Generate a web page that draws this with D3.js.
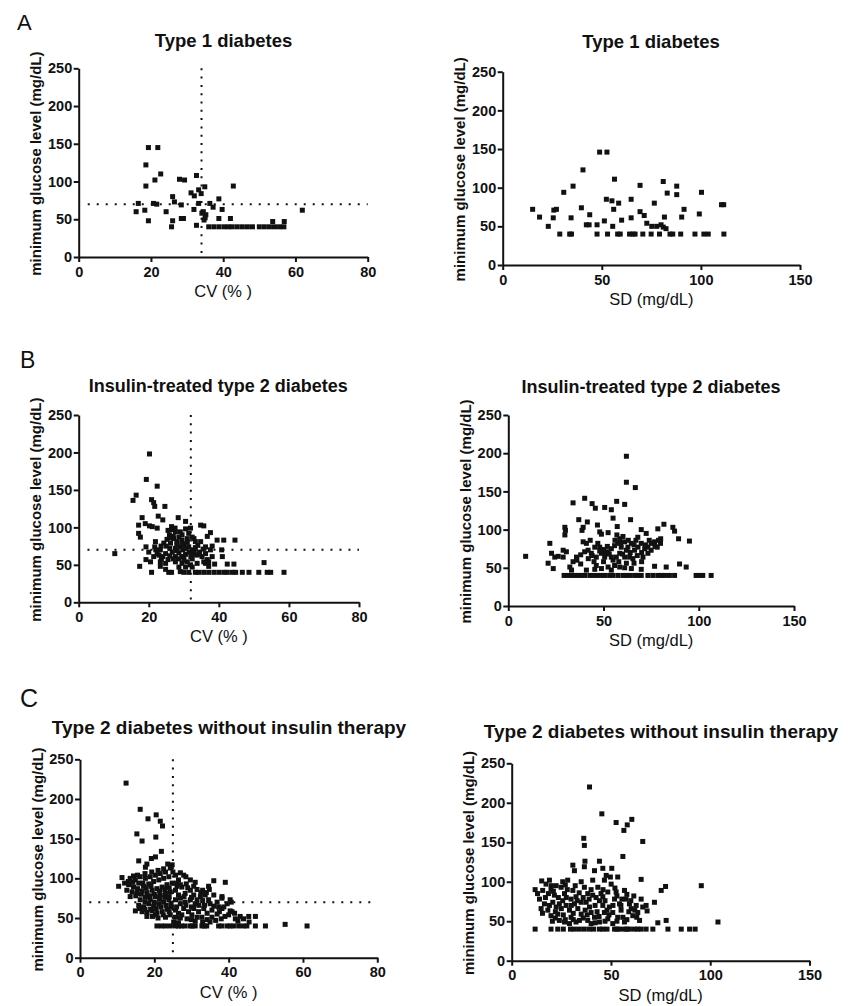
<!DOCTYPE html>
<html>
<head>
<meta charset="utf-8">
<script src="https://cdn.jsdelivr.net/npm/d3@7"></script>
<style>
  body { margin: 0; background: #fff; }
  svg { display: block; font-family: "Liberation Sans", Arial, Helvetica, sans-serif; }
</style>
</head>
<body>
<svg id="fig" width="852" height="1006"></svg>
<script>
// ---- Data: [x, minimum glucose (mg/dL)] per patient ----

// Type 1 diabetes: CV (%) vs minimum glucose
const t1CV = [
  [19.3,145],[21.9,145],[18.6,122],[22.7,110],[21.1,102],[18.6,94],[27.9,103],[29.3,102],[32.6,108],
  [42.8,94],[34.9,93],[33.2,89],[33.9,84],[31.1,85],[32,81],[26,80],[38.8,77],[26.5,73],[28.4,69],
  [16.5,71],[20.7,71],[21.6,70],[33.2,71],[36.3,71],[37.2,66],[39.7,63],[18.3,62],[15.9,60],[24.2,60],
  [31.9,63],[34.5,60],[34.1,58],[35.2,56],[38.8,51],[34.7,49],[35,52],[42,51],[19.3,48],[26,48],[28.4,51],
  [29,51],[25.7,40],[32.6,42],[36,40],[37.4,40],[38.8,40],[40.2,40],[41.4,40],[42.5,40],[43.9,40],
  [45.3,40],[46.7,40],[48.1,40],[50,40],[51.4,40],[52.8,40],[54.2,40],[55.6,40],[56.8,40],[53.7,47],
  [56.9,47],[61.9,62]
];

// Type 1 diabetes: SD (mg/dL) vs minimum glucose
const t1SD = [
  [48.9,146],[52.6,146],[40.5,123],[56.4,111],[69.3,103],[81,108],[87.8,102],[87.8,91],[83,93],[100.3,94],
  [35.5,102],[30.8,94],[52.3,85],[55.1,83],[58.5,80],[64.8,85],[76.5,80],[110.4,78],[111.5,78],[15.1,72],
  [25.8,71],[27.1,72],[39.7,74],[56,72],[69.3,69],[71.4,64],[91.5,72],[18.6,62],[25.5,61],[34.5,61],
  [43.9,65],[64.8,61],[60,58],[81.6,62],[90.3,62],[99.2,66],[23,50],[42.2,52],[43.6,52],[47.6,52],
  [51.3,57],[55.5,50],[72.7,54],[75.2,50],[77.7,50],[79.9,52],[81,49],[82.4,47],[28.8,40],[33.8,40],
  [34.7,40],[47.6,40],[52.9,40],[58,40],[59.3,40],[64,40],[65.7,40],[66.8,40],[70.7,40],[74.9,40],
  [79.1,40],[84.4,40],[85.8,40],[89.8,40],[97,40],[101.5,40],[103.7,40],[111.6,40]
];

// Insulin-treated type 2 diabetes: CV (%) vs minimum glucose
const t2InsCV = [
  [20.2,198],[19.3,164],[22.4,155],[16.4,143],[15.5,136],[20.8,137],[21.4,133],[21.7,128],[24.6,128],
  [22.7,115],[24,110],[18.1,113],[28.4,113],[30.5,108],[17.1,103],[20.2,102],[21,101],[22.4,99],[26.5,101],
  [19,105],[34.8,103],[35.7,102],[31.9,99],[17.1,92],[17.6,87],[25.5,96],[37.6,93],[36.7,88],[32.9,85],
  [39.5,83],[41.4,83],[44.6,83],[38.1,75],[10.3,65],[19.2,74],[20,67],[19.2,57],[21.7,74],[22.9,63],
  [23.6,58],[17.4,48],[20.8,40],[23.3,48],[24.8,44],[25.7,40],[28.6,47],[30.5,47],[32.4,47],[36.2,52],
  [37.1,48],[40.8,70],[41,61],[42.4,51],[44.3,51],[48.6,40],[51.4,40],[53.8,40],[54.8,40],[58.6,40],
  [52.9,53],[31.4,40],[33.3,40],[34.3,40],[35.7,40],[37.1,40],[38.6,40],[40,40],[41.4,40],[42.4,40],
  [43.8,40],[44.8,40],[46.7,40],[26.5,40],[29,41],[30,40],
  [26.7,97],[27.6,94],[25.9,90],[27.1,85],[28.6,87],[29.5,83],[28.1,81],[26.2,79],[30,78],[29,74],
  [27.6,72],[26.7,67],[28.6,66],[29.7,70],[30.5,64],[29.4,61],[27.6,61],[31.4,74],[32.4,70],[33.3,73],
  [34.5,67],[33.8,63],[35.2,61],[36.2,65],[36.7,57],[35.7,54],[32.4,58],[31,54],[24.8,65],[24,61],
  [23.3,70],[24.3,79],[25.2,84],[21.9,81],[22.4,65],[23.3,54],[24.8,52],[21.4,61],[20.5,54],[33.3,81],
  [34.8,81],[36.2,74],[37.6,70],[38.1,61],[27.6,54],[29.5,52],[31.9,50],[33.8,52],[37.1,54],[38.8,51],
  [32.4,87],[31.4,92],[29,94],[30.5,98],
  [27,88],[28,78],[29.5,77],[30.5,72],[31.5,67],[32.5,64],[33,68],[27,58],[28.5,58],[30,56],[26,62],
  [25,75],[26,72],[27.5,99],[29.5,90],[31,85],[23.5,75],[22,70],[34,76],[35.5,71],[30,61],[32,61],
  [25.5,57],[34.5,64],[28,69],[31,80],[26,86]
];

// Insulin-treated type 2 diabetes: SD (mg/dL) vs minimum glucose
const t2InsSD = [
  [62,196],[62,162],[66.7,155],[34,135],[40.1,141],[44,134],[45.7,128],[50.6,129],[54.1,126],[56.9,137],
  [61.1,133],[37,113],[41.5,110],[55,115],[64.2,113],[29.7,103],[30,99],[39.3,103],[38.7,99],[46.8,106],
  [48,97],[48.9,94],[52.4,96],[57.2,104],[69.8,100],[72.4,95],[78.5,101],[81.7,107],[86.4,103],[87.3,98],
  [89.4,88],[95.1,85],[21.8,82],[29.7,93],[68,90],[9.1,65],[89.9,55],[93.4,51],
  [58.5,88],[60.2,91],[61.1,84],[57.6,82],[59.3,77],[55.8,79],[54.1,75],[62.8,77],[64.6,82],[62,73],
  [52.4,71],[50.6,69],[66.3,73],[68.1,77],[69.8,82],[71.6,75],[73.3,77],[75,82],[76.8,84],[78.9,86],
  [79.9,82],[78.2,77],[75,73],[73.3,69],[70.7,64],[67.7,66],[65.4,62],[63.7,64],[61.1,64],[58.5,69],
  [56.7,64],[54.1,64],[50.6,64],[48.9,69],[46.2,64],[43.6,69],[41.9,73],[40.1,71],[41,82],[39.3,84],
  [45.4,77],[48,77],
  [22.7,69],[24.4,64],[26.2,65],[20.9,56],[23.6,49],[28.8,73],[30.5,71],[28.8,64],[34,58],[35.8,64],
  [32.3,51],[38,55],
  [29.3,40],[31.4,40],[33.2,40],[34.9,40],[36.6,40],[38.4,40],[40.1,40],[42.8,40],[44.5,40],[46.8,40],
  [48.9,40],[50.6,40],[53.2,40],[55,40],[57.6,40],[60.2,40],[61.9,40],[63.7,40],[66.3,40],[68.1,40],
  [69.8,40],[73.3,40],[75.9,40],[78.5,40],[80.3,40],[82,40],[84.6,40],[87.3,40],[98.6,40],[100.3,40],
  [102.1,40],[106.5,40],
  [33.2,47],[41,47],[45.4,48],[48.9,49],[52.4,51],[55.8,53],[58.5,51],[61.1,50],[64.6,49],[69.8,48],
  [76.8,52],[82.9,51],[54.1,47],[46.2,53],
  [56,86],[59,83],[63,86],[66,80],[52,78],[50,74],[48,72],[44,66],[42,62],[38,67],[36,60],[60,68],
  [64,70],[70,70],[72,80],[74,86],[77,78],[80,88],[58,58],[62,56],[66,56],[70,58],[45,58],[50,58],
  [55,60],[53,68],[47,82],[43,86],[67,86],[57,93]
];

// Type 2 diabetes without insulin therapy: CV (%) vs minimum glucose
const t2NoInsCV = [
  [12.4,220],[16.2,187],[20.5,180],[21.6,172],[22.2,166],[18.3,175],[15.3,156],[16.7,147],[20.4,152],
  [21.9,134],[15.8,122],[18,118],[17.6,114],[19.2,125],[20.3,127],[24.8,117],[10.4,90],[11.3,101],
  [14.4,103],[27,107],[27.9,104],[29.7,98],[36,97],[39.1,95],[34.6,90],[30.6,90],[26.1,90],[14.9,59],
  [38.2,77],[40.4,73],[40.7,70],[37.3,64],[38.2,62],[40.4,59],[41.6,56],[43.1,52],[45.4,52],[47.2,52],
  [55.2,42],[61.1,40],
  [20.7,40],[21.9,40],[23,40],[24.3,40],[25.7,40],[27.3,40],[28.3,40],[29.7,40],[31,40],[32.8,40],
  [34.1,40],[37.3,40],[38.2,40],[39.6,40],[40.4,40],[41.3,40],[42.7,40],[44,40],[44.9,40],[47.2,40],
  [49.9,40],[26.5,40],[30.2,40],[33.5,40],
  [13.5,100],[14.9,98],[16.2,102],[17.6,100],[18.9,102],[20.3,104],[21.6,106],[23,108],[24.3,113],
  [13.1,92],[14.4,89],[15.8,94],[17.1,90],[18.5,93],[19.8,96],[21.2,98],[22.5,100],[23.9,102],
  [14,83],[15.3,81],[16.7,84],[18,82],[19.4,85],[20.7,87],[22.1,89],[23.4,92],[24.8,94],
  [16.2,73],[17.6,76],[18.9,73],[20.3,77],[21.6,79],[23,81],[24.3,83],
  [15.8,66],[17.1,64],[18.5,68],[19.8,65],[21.2,68],[22.5,70],[23.9,73],
  [16.7,58],[18,57],[19.4,59],[20.7,56],[22.1,58],[23.4,61],[13.5,77],[12.6,85],[20.3,54],[23,51],
  [25.7,104],[26.5,98],[25.7,85],[26.5,79],[27.4,89],[28.3,81],[29.7,85],[30.6,79],[25.7,73],[27,68],
  [28.3,70],[29.7,73],[31,68],[32.4,77],[33.7,79],[34.6,73],[36,79],[36.9,70],[25.7,60],[26.5,56],
  [27.9,62],[29.2,58],[30.6,62],[31.9,58],[33.3,62],[34.2,56],[35.5,60],[25.7,51],[27.4,54],[28.8,49],
  [30.1,54],[31.5,51],[32.8,51],[34.2,48],[35.5,51],[36.9,55],[38.7,64],[40,54],[40.9,58],[41.8,49],
  [44,49],[38.2,75],[39.6,68],[25.2,45],[26.5,44],[24.3,54],[24.6,64],
  [14.2,95],[15.5,87],[16.9,94],[17.8,88],[19.1,90],[20,80],[21.4,84],[22.8,86],[24,88],[15,78],
  [16.5,80],[17.5,70],[18.7,78],[20,70],[21.4,74],[22.8,76],[24,77],[16,62],[17.5,61],[19,61],
  [20.5,62],[21.8,64],[23.2,66],[24.5,68],[18,52],[19.5,52],[21,50],[22.4,54],[13,96],[12,94],
  [19.3,108],[21,110],[22.5,112],[23.6,118],[17.5,106],[15.5,104],[26,94],[27,92],[28.6,93],[29,88],
  [31.5,86],[33,85],[34,82],[27,75],[28,77],[30,76],[31.5,73],[33,72],[35,68],[36,65],[26,64],
  [28.5,66],[30,64],[32,66],[33.5,66],[37.5,58],[27,50],[30,48],[31,46],[33,45],[35,45],[36.5,47],
  [38,49],[39,52],[42.5,46],[45.5,45],[24,58],[25,108],[28.5,102],[31,95],[32.5,82],[34.8,86]
];

// Type 2 diabetes without insulin therapy: SD (mg/dL) vs minimum glucose
const t2NoInsSD = [
  [39.2,220],[45.4,186],[52.6,175],[60.5,179],[58.2,172],[56.5,165],[36.3,155],[36.6,146],[66,151],
  [56,132],[36.9,126],[44.2,126],[30.8,121],[31.6,114],[36.6,119],[41.7,114],[45.9,117],[50.4,117],
  [47.6,108],[49.7,106],[65.2,103],[53.4,106],[11.8,90],[15.1,101],[77.5,94],[75.3,89],[95.5,95],
  [103.9,49],[71.9,74],[67.7,70],[68.2,63],[65.2,78],[73.6,48],[77.8,51],
  [11.8,40],[19.8,40],[23.2,40],[29.6,40],[31.6,40],[34.1,40],[36.6,40],[39.2,40],[41.3,40],[44.2,40],
  [45.9,40],[51.8,40],[54.3,40],[56.8,40],[59.3,40],[61.8,40],[65.2,40],[67.7,40],[71.1,40],[78.7,40],
  [85.4,40],[89.6,40],[92.4,40],[26,40],[48,40],[53,40],[58,40],[63.5,40],
  [14,78],[15.6,89],[17.3,97],[19,102],[19.8,91],[21.5,83],[20.7,74],[22.4,68],[23.2,59],[24.9,93],
  [26.6,85],[25.7,76],[27.4,70],[29.1,64],[29.9,55],[28.2,102],[30.8,89],[32.4,81],[31.6,72],[33.3,66],
  [35,59],[34.1,51],[36.6,93],[38.3,85],[37.5,74],[39.2,68],[40,61],[41.7,55],[40.8,102],[43.4,93],
  [45,85],[44.2,76],[45.9,70],[46.7,61],[48.4,53],[46.7,102],[50.1,97],[52.6,87],[51.8,78],[54.3,72],
  [55.1,64],[53.4,55],[56.8,89],[57.6,78],[59.3,72],[60.2,66],[61,57],[62.7,70],[63.5,61],[64.4,51],
  [16.5,72],[18.2,64],[19.8,57],[14.8,66],[24,51],[26.6,49],[29.1,47],[32.4,49],[38.3,51],[44.2,49],
  [50.9,47],[56.8,49],[25.7,100],[35,100],[22.4,95],[29.9,78],[40.8,83],[49.2,68],[35,74],[40,47],
  [45.9,81],[48.4,87],[50.9,61],[56,55],
  [17,80],[18.5,85],[20,95],[21,88],[23.5,80],[22,62],[24,72],[25,66],[26,58],[27.5,80],[28,90],
  [30,70],[31,60],[33,76],[32,95],[34,86],[36,80],[37,64],[38,58],[39,78],[40,90],[42,70],[42.5,80],
  [43,62],[44,56],[46,90],[47,76],[48,64],[49,58],[51,70],[52,92],[53,82],[55,70],[55.5,78],[58,84],
  [59,62],[60,76],[61.5,82],[62,64],[63,55],[66,68],[20.5,50],[22,54],[27,52],[31,52],[36,54],[42,48],
  [47,50],[53,50],[58,52],[15.5,60],[13,85],[19,70],[27,96]
];

// Axis tick values and threshold reference lines
const cvTicks = [0, 20, 40, 60, 80];
const sdTicks = [0, 50, 100, 150];
const glucoseTicks = [0, 50, 100, 150, 200, 250];
const hypoThreshold = 70;              // mg/dL
const cvCutoffs = { A: 34, B: 32, C: 25 };

const titles = {
  A: "Type 1 diabetes",
  B: "Insulin-treated type 2 diabetes",
  C: "Type 2 diabetes without insulin therapy"
};
const yLabel = "minimum glucose level (mg/dL)";

// ---- Layout of the six panels (pixel frames) ----
const panels = [
  { key: "A", data: t1CV,     xMax: 80,  ticks: cvTicks, xLabel: "CV (% )",   vline: cvCutoffs.A,
    l: 78.7,  r: 367.7, b: 257,   t: 68.3,  tx: 223.5, ty: 46.7,  ts: 18.5 },
  { key: "A", data: t1SD,     xMax: 150, ticks: sdTicks, xLabel: "SD (mg/dL)", vline: null,
    l: 502.7, r: 800,   b: 265,   t: 71.7,  tx: 651,   ty: 48.3,  ts: 18.5 },
  { key: "B", data: t2InsCV,  xMax: 80,  ticks: cvTicks, xLabel: "CV (% )",   vline: cvCutoffs.B,
    l: 78.7,  r: 359,   b: 602.3, t: 415,   tx: 218.3, ty: 391.7, ts: 18 },
  { key: "B", data: t2InsSD,  xMax: 150, ticks: sdTicks, xLabel: "SD (mg/dL)", vline: null,
    l: 508.3, r: 794,   b: 606,   t: 415,   tx: 651,   ty: 393.3, ts: 18 },
  { key: "C", data: t2NoInsCV, xMax: 80, ticks: cvTicks, xLabel: "CV (% )",   vline: cvCutoffs.C,
    l: 80,    r: 377.3, b: 957.7, t: 759.3, tx: 229,   ty: 734.3, ts: 19 },
  { key: "C", data: t2NoInsSD, xMax: 150, ticks: sdTicks, xLabel: "SD (mg/dL)", vline: null,
    l: 511.7, r: 809.5, b: 960.7, t: 763.3, tx: 661,   ty: 738.3, ts: 19 }
];

const svg = d3.select("#fig");
svg.append("rect").attr("width", 852).attr("height", 1006).attr("fill", "#fff");

// Section letters
[["A", 17, 30, 22], ["B", 20, 368, 23], ["C", 20, 706.5, 25]].forEach(([s, x, y, fs]) => {
  svg.append("text").attr("x", x).attr("y", y).attr("font-size", fs)
    .attr("fill", "#111").text(s);
});

const MARK = 5;

panels.forEach(p => {
  const g = svg.append("g");
  const x = d3.scaleLinear().domain([0, p.xMax]).range([p.l, p.r]);
  const y = d3.scaleLinear().domain([0, 250]).range([p.b, p.t]);

  // title
  g.append("text").attr("x", p.tx).attr("y", p.ty)
    .attr("text-anchor", "middle").attr("font-size", p.ts).attr("font-weight", "bold")
    .attr("fill", "#111").text(titles[p.key]);

  // reference lines (dotted)
  if (p.vline !== null) {
    g.append("line")
      .attr("x1", x(p.vline)).attr("x2", x(p.vline))
      .attr("y1", y(250)).attr("y2", y(0))
      .attr("stroke", "#111").attr("stroke-width", 2)
      .attr("stroke-dasharray", "2,6.3");
    g.append("line")
      .attr("x1", x(2.5)).attr("x2", x(80))
      .attr("y1", y(hypoThreshold)).attr("y2", y(hypoThreshold))
      .attr("stroke", "#111").attr("stroke-width", 2)
      .attr("stroke-dasharray", "2,7");
  }

  // points
  g.append("g").selectAll("rect").data(p.data).join("rect")
    .attr("x", d => x(d[0]) - MARK / 2)
    .attr("y", d => y(d[1]) - MARK / 2)
    .attr("width", MARK).attr("height", MARK)
    .attr("fill", "#111");

  // axes
  const xa = g.append("g").attr("transform", `translate(0,${p.b})`)
    .call(d3.axisBottom(x).tickValues(p.ticks).tickSize(5).tickPadding(4.5).tickSizeOuter(0));
  const ya = g.append("g").attr("transform", `translate(${p.l},0)`)
    .call(d3.axisLeft(y).tickValues(glucoseTicks).tickSize(5).tickPadding(1.5).tickSizeOuter(0));
  [xa, ya].forEach(a => {
    a.selectAll("path, line").attr("stroke", "#111").attr("stroke-width", 2);
    a.selectAll("text").attr("font-size", 14.5).attr("font-weight", "bold")
      .attr("fill", "#111").attr("font-family", "Liberation Sans, Arial, sans-serif");
  });

  // axis titles
  g.append("text")
    .attr("x", (p.l + p.r) / 2).attr("y", p.b + 40)
    .attr("text-anchor", "middle").attr("font-size", 16.5).attr("fill", "#111")
    .text(p.xLabel);
  g.append("text")
    .attr("transform", `translate(${p.l - 43},${(p.t + p.b) / 2 + 1}) rotate(-90)`)
    .attr("text-anchor", "middle").attr("dominant-baseline", "central")
    .attr("font-size", 15).attr("font-weight", "bold").attr("fill", "#111")
    .text(yLabel);
});
</script>
</body>
</html>
